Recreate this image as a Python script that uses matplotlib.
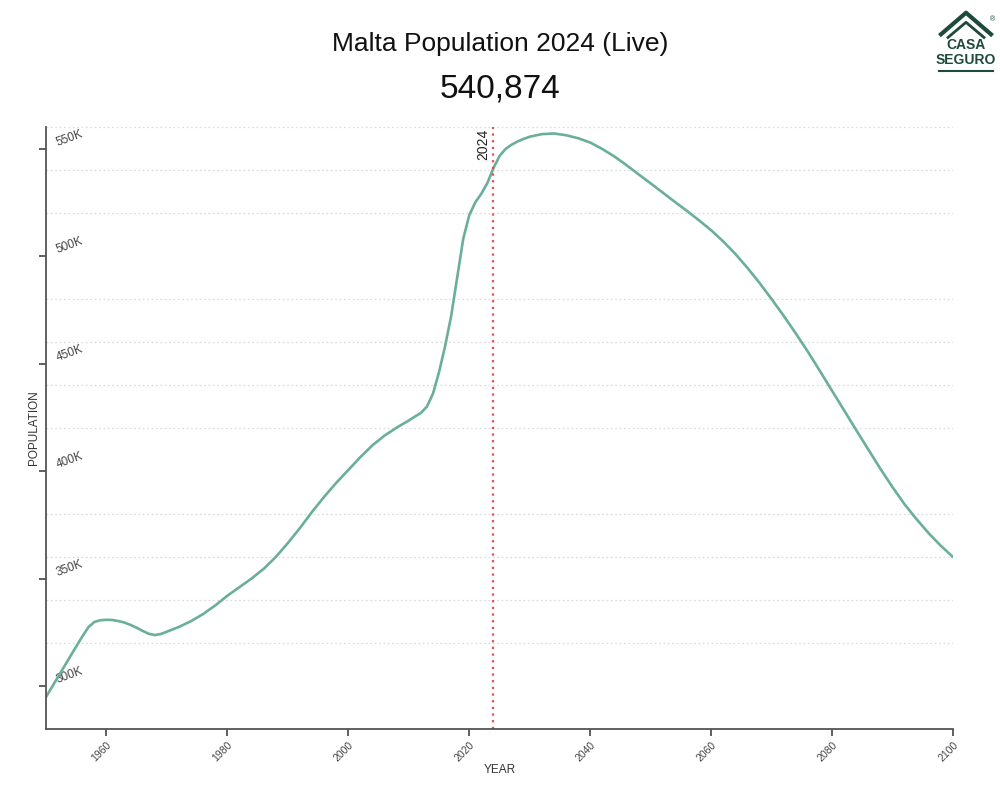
import numpy as np
import matplotlib
matplotlib.use("Agg")
from matplotlib import pyplot as plt
from matplotlib.ticker import MultipleLocator, FuncFormatter
from matplotlib.lines import Line2D

plt.rcParams['font.family'] = ['Liberation Sans', 'DejaVu Sans']

# population (thousands)
years = [1950, 1951, 1952, 1953, 1954, 1955, 1956, 1957, 1958, 1959,
         1960, 1961, 1962, 1963, 1964, 1965, 1966, 1967, 1968, 1969,
         1970, 1972, 1974, 1976, 1978, 1980, 1982, 1984, 1986, 1988,
         1990, 1992, 1994, 1996, 1998, 2000, 2002, 2004, 2006, 2008,
         2010, 2011, 2012, 2013, 2014, 2015, 2016, 2017, 2018, 2019,
         2020, 2021, 2022, 2023, 2024, 2025, 2026, 2027, 2028, 2029,
         2030, 2032, 2034, 2036, 2038, 2040, 2042, 2044, 2046, 2048,
         2050, 2052, 2054, 2056, 2058, 2060, 2062, 2064, 2066, 2068,
         2070, 2072, 2074, 2076, 2078, 2080, 2082, 2084, 2086, 2088,
         2090, 2092, 2094, 2096, 2098, 2100]
pop_k = [294.9, 299.6, 304.3, 309.0, 313.7, 318.4, 323.0, 327.3, 329.8, 330.6,
         330.8, 330.7, 330.2, 329.5, 328.4, 327.1, 325.6, 324.3, 323.7, 324.2,
         325.3, 327.5, 330.2, 333.5, 337.5, 342.0, 346.0, 350.0, 354.5, 360.0,
         366.5, 373.5, 381.0, 388.0, 394.5, 400.5, 406.5, 412.0, 416.5, 420.2,
         423.5, 425.3, 427.0, 430.0, 436.0, 446.0, 458.0, 472.0, 490.0, 508.0,
         519.0, 525.0, 529.0, 534.0, 540.9, 546.5, 549.8, 551.8, 553.3, 554.5,
         555.5, 556.7, 557.0, 556.2, 554.8, 552.8, 549.8, 546.3, 542.3, 538.0,
         533.8, 529.5, 525.2, 521.0, 516.6, 512.0, 506.8, 501.0, 494.5, 487.5,
         480.0, 472.2, 464.0, 455.5, 446.5, 437.3, 428.2, 419.0, 410.0, 401.0,
         392.5, 384.5, 377.5, 371.0, 365.2, 360.0]
population = [v * 1000 for v in pop_k]

x_ticks = [1960, 1980, 2000, 2020, 2040, 2060, 2080, 2100]
y_ticks = [300000, 350000, 400000, 450000, 500000, 550000]
current_year = 2024
current_pop = "540,874"

fig = plt.figure(figsize=(10, 7.97), dpi=100)
ax = fig.add_axes([0.046, 0.0853, 0.907, 0.7553])

ax.plot(years, population, color="#6aae9c", linewidth=1.9,
        solid_capstyle="round", solid_joinstyle="round")

ax.set_xlim(1950, 2100)
ax.set_ylim(280000, 560000)

# grid every 20K
ax.yaxis.set_minor_locator(MultipleLocator(20000))
ax.grid(axis="y", which="minor", color="#dddddd", linestyle=(0, (1.5, 2)), linewidth=0.9)
ax.grid(axis="x", visible=False)
ax.set_axisbelow(True)

ax.set_xticks(x_ticks)
ax.set_yticks(y_ticks)
ax.yaxis.set_major_formatter(FuncFormatter(lambda v, p: f"{int(v/1000)}K"))
ax.tick_params(axis="y", which="minor", length=0)
ax.tick_params(axis="both", which="major", direction="out", length=5, width=1.2,
               color="#444444", labelcolor="#444444", labelsize=7.5)
ax.tick_params(axis="y", which="major", pad=-14, labelsize=8.5)
ax.tick_params(axis="x", which="major", pad=3)
for lab in ax.get_yticklabels():
    lab.set_ha("left")
    lab.set_va("bottom")
    lab.set_rotation(20)
    lab.set_rotation_mode("anchor")
for lab in ax.get_xticklabels():
    lab.set_ha("right")
    lab.set_rotation(45)
    lab.set_rotation_mode("anchor")

for s in ["top", "right"]:
    ax.spines[s].set_visible(False)
for s in ["left", "bottom"]:
    ax.spines[s].set_color("#555555")
    ax.spines[s].set_linewidth(1.3)

ax.axvline(current_year, color="#e05050", linestyle=(0, (1, 2)), linewidth=1.6)
ax.text(current_year - 0.6, 559000, str(current_year), rotation=90, ha="right", va="top",
        fontsize=10, color="#222222")

ax.set_xlabel("YEAR", fontsize=8.5, color="#333333", labelpad=0)
ax.set_ylabel("POPULATION", fontsize=8.5, color="#333333", labelpad=-1)

fig.text(0.5, 0.945, "Malta Population 2024 (Live)", ha="center", va="center",
         fontsize=19, color="#111111")
fig.text(0.5, 0.888, current_pop, ha="center", va="center", fontsize=24, color="#111111")

# logo
logo_c = "#1e4a3c"
fig.add_artist(Line2D([0.941, 0.966, 0.991], [0.957, 0.984, 0.957], color=logo_c,
                      linewidth=3, transform=fig.transFigure))
fig.add_artist(Line2D([0.948, 0.966, 0.984], [0.953, 0.972, 0.953], color=logo_c,
                      linewidth=2, transform=fig.transFigure))
fig.text(0.966, 0.943, "CASA", ha="center", va="center", fontsize=10,
         fontweight="bold", color=logo_c)
fig.text(0.966, 0.925, "SEGURO", ha="center", va="center", fontsize=10,
         fontweight="bold", color=logo_c)
fig.add_artist(Line2D([0.939, 0.993], [0.911, 0.911], color=logo_c, linewidth=1.5,
                      transform=fig.transFigure))
fig.text(0.993, 0.975, "®", ha="center", va="center", fontsize=5, color=logo_c)

fig.savefig("out.png", dpi=100, facecolor="white")
